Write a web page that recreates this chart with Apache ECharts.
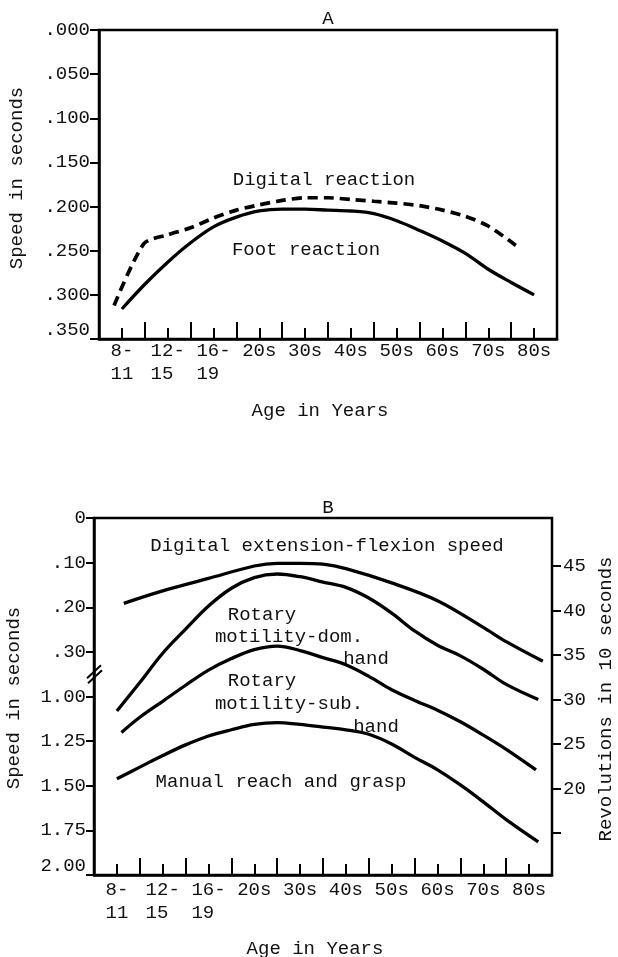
<!DOCTYPE html>
<html><head><meta charset="utf-8">
<script src="https://cdn.jsdelivr.net/npm/echarts@6/dist/echarts.min.js"></script>
<style>html,body{margin:0;padding:0;background:#fff}#c{width:618px;height:957px}</style>
</head><body><div id="c"></div>
<script>
// ---- categories & tick labels ----
const ageCategories = ['8-\n11', '12-\n15 ', '16-\n19 ', '20s', '30s', '40s', '50s', '60s', '70s', '80s'];
const yTicksA = ['.000', '.050', '.100', '.150', '.200', '.250', '.300', '.350'];
const yTicksBLeft = ['0', '.10', '.20', '.30', '1.00', '1.25', '1.50', '1.75', '2.00'];
const yTicksBRight = [15, 20, 25, 30, 35, 40, 45];

// ---- Chart A: speed in seconds (x = category position, 0 = 8-11 ... 9 = 80s) ----
const footX = [0, 0.5, 1, 1.5, 2, 2.5, 3, 3.5, 4, 4.5, 5, 5.5, 6, 6.5, 7, 7.5, 8, 8.5, 9];
const footY = [0.316, 0.288, 0.263, 0.241, 0.223, 0.212, 0.205, 0.203, 0.203, 0.204, 0.205, 0.208, 0.216, 0.227, 0.239, 0.253, 0.271, 0.286, 0.300];
const digitalX = [-0.17, 0.48, 1, 1.5, 2, 2.5, 3, 3.5, 4, 4.5, 5, 5.5, 6, 6.5, 7, 7.5, 8, 8.6];
const digitalY = [0.312, 0.242, 0.232, 0.224, 0.213, 0.204, 0.198, 0.193, 0.190, 0.190, 0.192, 0.194, 0.196, 0.199, 0.204, 0.211, 0.222, 0.244];

// ---- Chart B: revolutions in 10 seconds ----
const digExtX = [0.15, 1, 2, 3, 3.5, 4, 4.5, 5, 6, 7, 8, 8.5, 9.3];
const digExtY = [40.8, 42.2, 43.6, 45.0, 45.3, 45.3, 45.2, 44.7, 43.1, 41.1, 38.1, 36.5, 34.3];
const rotDomX = [0, 0.5, 1, 1.5, 2, 2.5, 3, 3.5, 4, 4.5, 5, 5.5, 6, 6.5, 7, 7.5, 8, 8.5, 9.2];
const rotDomY = [28.7, 31.9, 35.2, 37.9, 40.5, 42.5, 43.7, 44.1, 43.8, 43.2, 42.6, 41.4, 39.7, 37.7, 36.1, 34.9, 33.4, 31.7, 30.0];
const rotSubX = [0.1, 0.5, 1, 1.5, 2, 2.5, 3, 3.5, 4, 4.5, 5, 5.5, 6, 6.5, 7, 7.5, 8, 8.5, 9.15];
const rotSubY = [26.3, 28.0, 29.8, 31.6, 33.3, 34.6, 35.6, 36.0, 35.5, 34.7, 33.9, 32.6, 31.1, 29.9, 28.8, 27.5, 26.0, 24.4, 22.1];
const manualX = [0, 0.5, 1, 1.5, 2, 2.5, 3, 3.5, 4, 4.5, 5, 5.5, 6, 6.5, 7, 7.5, 8, 8.5, 9.2];
const manualY = [21.1, 22.4, 23.7, 24.9, 25.9, 26.6, 27.2, 27.4, 27.2, 26.9, 26.6, 26.1, 25.0, 23.5, 22.1, 20.4, 18.5, 16.5, 14.0];

const FONT = 'Liberation Mono';
const FS = 19;
const INK = '#111';
const pairs = (xs, ys) => xs.map((x, i) => [x, ys[i]]);

const gridA = { left: 99, top: 30, width: 458, height: 309 };
const gridB = { left: 94, top: 518, width: 458, height: 357 };
const gridB2 = { left: 94, top: 566, width: 458, height: 267 };

function xAxesFor(gridIndex, margin) {
  return [
    { gridIndex, type: 'category', data: ageCategories, boundaryGap: true, position: 'bottom',
      axisLine: { onZero: false, lineStyle: { color: '#000', width: 2.5 } },
      axisTick: { show: true, inside: true, length: 17, interval: 0, lineStyle: { color: '#000', width: 2 } },
      axisLabel: { interval: 0, fontFamily: FONT, fontSize: FS, color: INK, lineHeight: 23, margin },
      splitLine: { show: false } },
    { gridIndex, type: 'category', data: ageCategories, boundaryGap: true, position: 'bottom',
      axisLine: { show: false, onZero: false },
      axisTick: { show: true, inside: true, length: 11, interval: 0, alignWithLabel: true, lineStyle: { color: '#000', width: 2 } },
      axisLabel: { show: false }, splitLine: { show: false } },
    { gridIndex, type: 'value', min: -0.5, max: 9.5, position: 'bottom', show: false,
      axisLine: { onZero: false }, splitLine: { show: false } }
  ];
}

const lineSeries = (name, xs, ys, xi, yi, extra) => Object.assign({
  name, type: 'line', xAxisIndex: xi, yAxisIndex: yi, data: pairs(xs, ys),
  smooth: 0.35, showSymbol: false, symbol: 'none', clip: false,
  lineStyle: { color: '#000', width: 3.3 }
}, extra || {});

const txt = (text, x, y, extra) => Object.assign({
  type: 'text', x, y, silent: true,
  style: { text, font: FS + 'px "' + FONT + '"', fill: INK, align: 'center', verticalAlign: 'middle' }
}, extra || {});

const chart = echarts.init(document.getElementById('c'), null, { renderer: 'canvas' });
const option = {
  animation: false,
  backgroundColor: '#fff',
  grid: [
    Object.assign({ show: true, borderColor: '#000', borderWidth: 2.5, containLabel: false }, gridA),
    Object.assign({ show: true, borderColor: '#000', borderWidth: 2.5, containLabel: false }, gridB),
    Object.assign({ show: false, containLabel: false }, gridB2)
  ],
  xAxis: [].concat(xAxesFor(0, 0), xAxesFor(1, 3), [
    { gridIndex: 2, type: 'value', min: -0.5, max: 9.5, position: 'bottom', show: false,
      axisLine: { onZero: false }, splitLine: { show: false } }
  ]),
  yAxis: [
    { gridIndex: 0, type: 'value', inverse: true, min: 0, max: 0.35, interval: 0.05, position: 'left',
      axisLine: { show: true, onZero: false, lineStyle: { color: '#000', width: 2.5 } },
      axisTick: { show: true, length: 9, lineStyle: { color: '#000', width: 2 } },
      axisLabel: { fontFamily: FONT, fontSize: FS, color: INK, margin: 9, showMinLabel: true, showMaxLabel: true,
        verticalAlignMaxLabel: 'bottom',
        formatter: v => yTicksA[Math.round(v / 0.05)] },
      splitLine: { show: false } },
    { gridIndex: 1, type: 'value', inverse: true, min: 0, max: 8, interval: 1, position: 'left',
      axisLine: { show: true, onZero: false, lineStyle: { color: '#000', width: 2.5 } },
      axisTick: { show: true, length: 8, lineStyle: { color: '#000', width: 2 } },
      axisLabel: { fontFamily: FONT, fontSize: FS, color: INK, margin: 8, showMinLabel: true, showMaxLabel: true,
        verticalAlignMaxLabel: 'bottom',
        formatter: v => yTicksBLeft[Math.round(v)] },
      splitLine: { show: false } },
    { gridIndex: 2, type: 'value', min: yTicksBRight[0], max: yTicksBRight[yTicksBRight.length - 1], interval: 5, position: 'right',
      axisLine: { show: false, onZero: false },
      axisTick: { show: true, length: 9, lineStyle: { color: '#000', width: 2 } },
      axisLabel: { fontFamily: FONT, fontSize: FS, color: INK, margin: 11, showMinLabel: true, showMaxLabel: true,
        formatter: v => (v === yTicksBRight[0] ? '' : String(v)) },
      splitLine: { show: false } }
  ],
  series: [
    lineSeries('Foot reaction', footX, footY, 2, 0),
    lineSeries('Digital reaction', digitalX, digitalY, 2, 0, { smooth: 0.25, lineStyle: { color: '#000', width: 3.7, type: [10, 6] } }),
    lineSeries('Digital extension-flexion speed', digExtX, digExtY, 6, 2),
    lineSeries('Rotary motility-dom. hand', rotDomX, rotDomY, 6, 2),
    lineSeries('Rotary motility-sub. hand', rotSubX, rotSubY, 6, 2),
    lineSeries('Manual reach and grasp', manualX, manualY, 6, 2)
  ]
};
chart.setOption(option);

// decorations and annotations
const yBreak = chart.convertToPixel({ yAxisIndex: 1 }, 3.5);
const xB = gridB.left;
chart.setOption({
  graphic: [
    txt('A', 328, 19),
    txt('Digital reaction', 324, 180),
    txt('Foot reaction', 306, 250),
    txt('Age in Years', 320, 411),
    txt('Speed in seconds', 17, 178, { rotation: Math.PI / 2 }),
    txt('B', 328, 508),
    txt('Digital extension-flexion speed', 327, 546),
    txt('Rotary', 262, 615),
    txt('motility-dom.', 289, 637),
    txt('hand', 366, 659),
    txt('Rotary', 262, 681),
    txt('motility-sub.', 289, 704),
    txt('hand', 376, 727),
    txt('Manual reach and grasp', 281, 782),
    txt('Age in Years', 315, 949),
    txt('Speed in seconds', 14, 698, { rotation: Math.PI / 2 }),
    txt('Revolutions in 10 seconds', 606, 699, { rotation: Math.PI / 2 }),
    { type: 'line', silent: true, shape: { x1: xB - 7, y1: yBreak + 4, x2: xB + 7, y2: yBreak - 9 }, style: { stroke: '#000', lineWidth: 2 } },
    { type: 'line', silent: true, shape: { x1: xB - 6, y1: yBreak + 9, x2: xB + 8, y2: yBreak - 4 }, style: { stroke: '#000', lineWidth: 2 } }
  ]
});
</script></body></html>
